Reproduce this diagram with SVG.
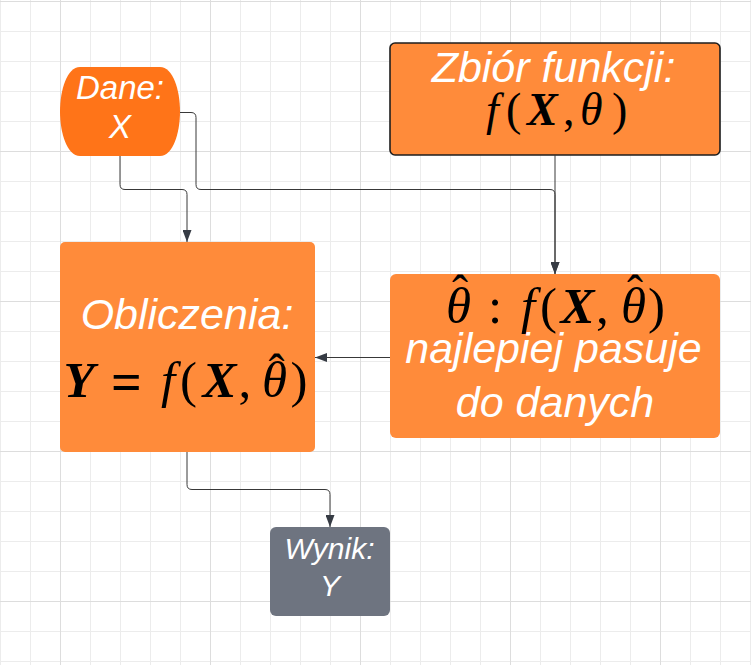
<svg xmlns="http://www.w3.org/2000/svg" width="751" height="665" viewBox="0 0 751 665">
<style>
.minor{stroke:#ececec;stroke-width:1;fill:none}
.major{stroke:#dddddd;stroke-width:1;fill:none}
.box{fill:#ff8b3a}
.lbl{font-family:"Liberation Sans",Arial,sans-serif;font-style:italic;fill:#ffffff;text-anchor:middle}
.math{font-family:"Liberation Serif","Times New Roman",serif;font-style:italic;fill:#000000}
.up{font-style:normal}
.bx{font-weight:bold}
.hat{font-style:normal;font-size:48px;text-anchor:middle}
.conn{stroke:#383838;stroke-width:1;fill:none}
</style>
<defs>
<marker id="arr" markerUnits="userSpaceOnUse" markerWidth="12" markerHeight="9" refX="12" refY="4.5" orient="auto">
<path d="M0 0L12 4.5L0 9Z" fill="#363b44"/>
</marker>
</defs>
<rect width="751" height="665" fill="#ffffff"/>
<g id="grid">
<path class="minor" d="M0.5 0V665M30.5 0V665M90.5 0V665M120.5 0V665M150.5 0V665M180.5 0V665M240.5 0V665M270.5 0V665M300.5 0V665M330.5 0V665M390.5 0V665M420.5 0V665M450.5 0V665M480.5 0V665M540.5 0V665M570.5 0V665M600.5 0V665M630.5 0V665M690.5 0V665M720.5 0V665M750.5 0V665M0 31.5H751M0 61.5H751M0 91.5H751M0 121.5H751M0 181.5H751M0 211.5H751M0 241.5H751M0 271.5H751M0 331.5H751M0 361.5H751M0 391.5H751M0 421.5H751M0 481.5H751M0 511.5H751M0 541.5H751M0 571.5H751M0 631.5H751M0 661.5H751"/>
<path class="major" d="M60.5 0V665M210.5 0V665M360.5 0V665M510.5 0V665M660.5 0V665M0 1.5H751M0 151.5H751M0 301.5H751M0 451.5H751M0 601.5H751"/>
</g>
<g id="dane">
<path d="M80 67H160C173 67 180 90 180 111.5C180 133 173 156 160 156H80C67 156 60 133 60 111.5C60 90 67 67 80 67Z" fill="#ff7418"/>
<text class="lbl" x="120" y="99" font-size="33" fill="#fff6ee">Dane:</text>
<text class="lbl" x="120" y="138" font-size="33" fill="#fff6ee">X</text>
</g>
<g id="zbior">
<rect class="box" x="390" y="43" width="330" height="112" rx="5" stroke="#1e1e1e" stroke-width="1.6"/>
<text class="lbl" x="553.5" y="81.5" font-size="43">Zbiór funkcji:</text>
<text class="math" y="125" font-size="46"><tspan x="486">f</tspan><tspan class="up" x="506">(</tspan><tspan class="bx" x="527">X</tspan><tspan class="up" x="563">,</tspan><tspan x="580">θ</tspan><tspan class="up" x="612">)</tspan></text>
</g>
<g id="theta">
<rect class="box" x="390" y="274" width="330" height="164" rx="6"/>
<text class="math" y="323" font-size="51"><tspan x="446">θ</tspan><tspan class="hat" x="460" y="309">ˆ</tspan><tspan class="up" x="488" y="323">:</tspan><tspan x="521">f</tspan><tspan class="up" x="540">(</tspan><tspan class="bx" x="560.5">X</tspan><tspan class="up" x="596">,</tspan><tspan x="621">θ</tspan><tspan class="hat" x="635" y="309">ˆ</tspan><tspan class="up" x="648" y="323">)</tspan></text>
<text class="lbl" x="553.5" y="363" font-size="43">najlepiej pasuje</text>
<text class="lbl" x="555" y="416.5" font-size="43">do danych</text>
</g>
<g id="obliczenia">
<rect class="box" x="60" y="242" width="255" height="210" rx="5"/>
<text class="lbl" x="187" y="329" font-size="43">Obliczenia:</text>
<text class="math" y="397" font-size="51"><tspan class="bx" x="63.5">Y</tspan><tspan class="up bx" x="111" y="400" font-size="54">=</tspan><tspan x="161" y="397">f</tspan><tspan class="up" x="180">(</tspan><tspan class="bx" x="202.5">X</tspan><tspan class="up" x="238.5">,</tspan><tspan x="262">θ</tspan><tspan class="hat" x="276.5" y="387.5">ˆ</tspan><tspan class="up" x="290.5" y="397">)</tspan></text>
</g>
<g id="wynik">
<rect x="270" y="527" width="120" height="89" rx="6" fill="#6e7480"/>
<text class="lbl" x="329.5" y="559" font-size="30" fill="#e8e9eb">Wynik:</text>
<text class="lbl" x="330" y="596" font-size="30" fill="#e8e9eb">Y</text>
</g>
<g id="connectors">
<path class="conn" d="M120 156V184.5Q120 189.5 125 189.5H182Q187 189.5 187 194.5V242" marker-end="url(#arr)"/>
<path class="conn" d="M180 112.5H191Q196 112.5 196 117.5V184.5Q196 189.5 201 189.5H550Q555 189.5 555 194.5V274" marker-end="url(#arr)"/>
<path class="conn" d="M555 155V274" marker-end="url(#arr)"/>
<path class="conn" d="M390 357.5H315" marker-end="url(#arr)"/>
<path class="conn" d="M187 452V484.5Q187 489.5 192 489.5H325Q330 489.5 330 494.5V527" marker-end="url(#arr)"/>
</g>
</svg>
